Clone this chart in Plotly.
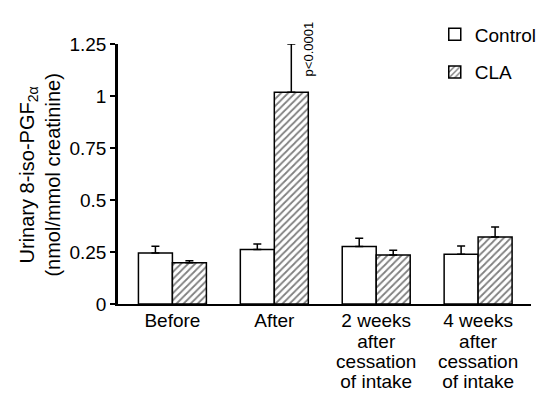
import plotly.graph_objects as go

categories = ["Before", "After", "2 weeks<br>after<br>cessation<br>of intake", "4 weeks<br>after<br>cessation<br>of intake"]
control = [0.245, 0.262, 0.276, 0.239]
control_err = [0.032, 0.027, 0.040, 0.040]
cla = [0.198, 1.018, 0.235, 0.322]
cla_err = [0.010, 0.232, 0.023, 0.048]
ytick_vals = [0, 0.25, 0.5, 0.75, 1, 1.25]
ytick_text = ["0", "0.25", "0.5", "0.75", "1", "1.25"]

FONT = "Liberation Sans, Arial, Helvetica, sans-serif"


def big(label, px=19):
    return "<br>".join(f'<span style="font-size:{px}px">{line}</span>' for line in label.split("<br>"))


fig = go.Figure()
fig.add_trace(go.Bar(
    x=categories, y=control, name="Control", legendgroup="a",
    marker=dict(color="white", line=dict(color="black", width=1.5)),
    error_y=dict(type="data", symmetric=False, array=control_err, arrayminus=[0] * 4,
                 color="black", thickness=1.5, width=4),
))
fig.add_trace(go.Bar(
    x=categories, y=cla, name="CLA", legendgroup="b",
    marker=dict(color="white", line=dict(color="black", width=1.5),
                pattern=dict(shape="/", fgcolor="black", bgcolor="white", size=5, solidity=0.35)),
    error_y=dict(type="data", symmetric=False, array=cla_err, arrayminus=[0] * 4,
                 color="black", thickness=1.5, width=4),
))

# plot area: left 118, right 531, top 44, bottom 304.5 (in px)
fig.update_layout(
    width=540, height=394,
    margin=dict(l=118, r=9, t=14, b=89.5, autoexpand=False),
    paper_bgcolor="white", plot_bgcolor="white",
    font=dict(family=FONT, size=19, color="black"),
    barmode="group", bargap=0.333, bargroupgap=0,
    showlegend=True,
    legend=dict(x=0.767, y=0.995, xanchor="left", yanchor="top", bgcolor="rgba(0,0,0,0)",
                font=dict(size=19), tracegroupgap=10, traceorder="grouped"),
    xaxis=dict(
        range=[-0.534, 3.519], showline=True, linecolor="black", linewidth=1.5,
        ticks="", showgrid=False, zeroline=False, automargin=False,
        tickmode="array", tickvals=categories, ticktext=[big(c) for c in categories],
        tickfont=dict(size=15.6), ticklabelstandoff=3,
    ),
    yaxis=dict(
        range=[0, 1.25], domain=[0, 260.5 / 290.5], showline=True, linecolor="black", linewidth=2.5,
        ticks="outside", ticklen=5, tickwidth=1.5, tickcolor="black", automargin=False,
        tickmode="array", tickvals=ytick_vals, ticktext=ytick_text,
        showgrid=False, zeroline=False, tickfont=dict(size=19),
    ),
    annotations=[
        dict(text="Urinary 8-iso-PGF<sub>2α</sub><br>(nmol/mmol creatinine)",
             xref="paper", yref="paper", x=-0.189, y=0.446, xanchor="center", yanchor="middle",
             textangle=-90, showarrow=False, font=dict(size=20)),
        dict(text="p<0.0001", xref="x", yref="y", x=1.331, y=1.224,
             xanchor="center", yanchor="middle", textangle=-90, showarrow=False,
             font=dict(size=13)),
    ],
)

fig.write_html("out.html", config={"displayModeBar": False},
               post_script="document.body.style.margin='0';document.body.style.padding='0';")
